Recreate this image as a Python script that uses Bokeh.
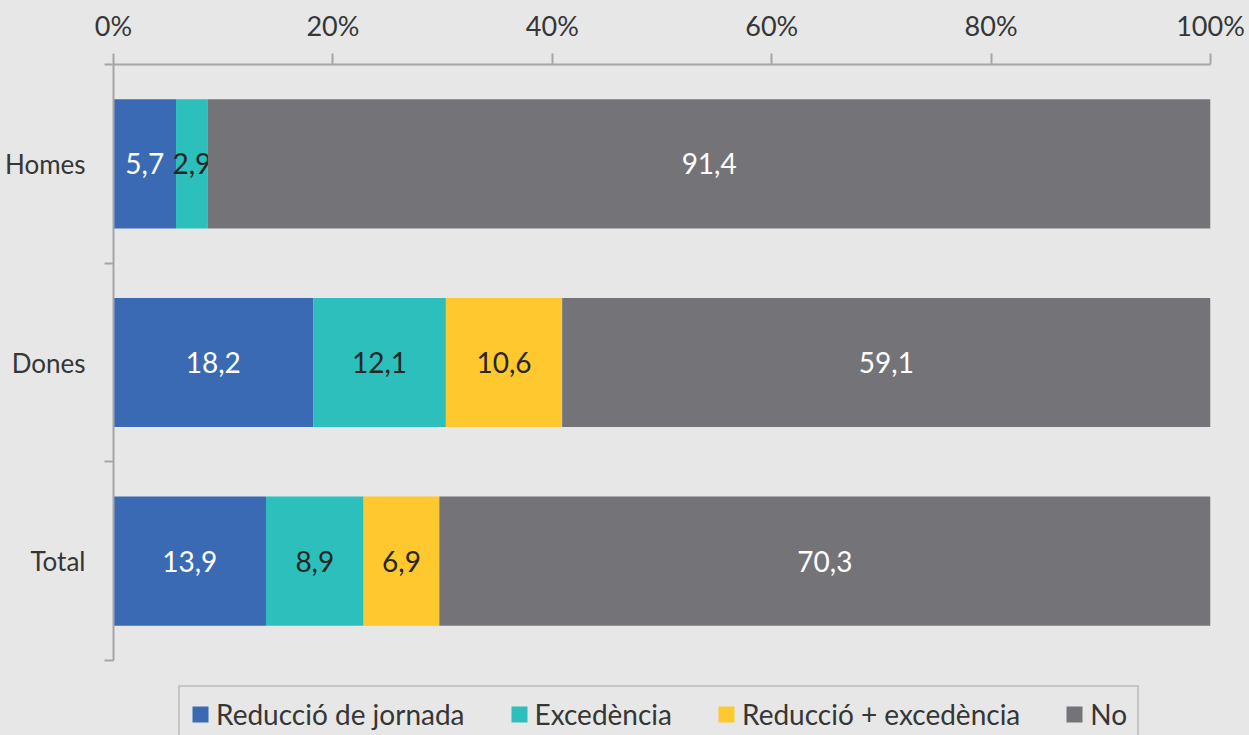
import numpy as np
from bokeh.plotting import figure
from bokeh.models import (FixedTicker, PrintfTickFormatter, Legend, LegendItem,
                          ColumnDataSource)
from bokeh.core.properties import value
from bokeh.embed import file_html
from bokeh.resources import INLINE

# ---- data ----
categories = ["Homes", "Dones", "Total"]
series_names = ["Reducció de jornada", "Excedència", "Reducció + excedència", "No"]
reduccio = [5.7, 18.2, 13.9]
excedencia = [2.9, 12.1, 8.9]
reduccio_exc = [0.0, 10.6, 6.9]
no = [91.4, 59.1, 70.3]
x_ticks = [0, 20, 40, 60, 80, 100]

# ---- style ----
BG = "#e7e7e7"
AXIS = "#a6a6a8"
TXT = "#363636"
FONT = "Lato"
colors = ["#3a6ab3", "#2cbfbb", "#ffc82f", "#747378"]
label_colors = ["#ffffff", "#262626", "#262626", "#ffffff"]

W, H = 1249, 735
TOP, LEFT, RIGHT = 64, 113, 39
BAR_AREA = 596          # pixel height used by the category bands
LEGEND_AREA = H - TOP - BAR_AREA

n = len(categories)
ypos = [n - 0.5 - i for i in range(n)]  # first category on top
pad_units = LEGEND_AREA / (BAR_AREA / n)

p = figure(width=W, height=H, x_range=(0, 100), y_range=(-pad_units, n),
           x_axis_location="above", output_backend="svg", toolbar_location=None,
           min_border_left=LEFT, min_border_right=RIGHT, min_border_top=TOP,
           min_border_bottom=0)
p.background_fill_color = BG
p.border_fill_color = BG
p.outline_line_color = None
p.grid.visible = False

series = [reduccio, excedencia, reduccio_exc, no]
left = np.zeros(n)
renderers = []
for vals, col, lcol in zip(series, colors, label_colors):
    vals = np.array(vals)
    right = left + vals
    src = ColumnDataSource(dict(y=ypos, left=left, right=right))
    r = p.hbar(y="y", left="left", right="right", height=0.65, source=src,
               fill_color=col, line_color=None)
    renderers.append(r)
    mask = vals > 0
    lsrc = ColumnDataSource(dict(
        x=list((left + vals / 2)[mask]),
        y=list(np.array(ypos)[mask]),
        t=[f"{v:.1f}".replace(".", ",") for v in vals[mask]]))
    p.text(x="x", y="y", text="t", source=lsrc, text_align="center",
           text_baseline="middle", text_color=lcol, text_font=value(FONT),
           text_font_size="28px")
    left = right

# top axis
xa = p.xaxis[0]
xa.ticker = FixedTicker(ticks=x_ticks, minor_ticks=[])
xa.formatter = PrintfTickFormatter(format="%d%%")
xa.axis_line_color = AXIS
xa.axis_line_width = 2
xa.major_tick_line_color = AXIS
xa.major_tick_line_width = 2
xa.major_tick_out = 11
xa.major_tick_in = 0
xa.minor_tick_line_color = None
xa.major_label_text_font = FONT
xa.major_label_text_font_size = "27px"
xa.major_label_text_color = TXT
xa.major_label_standoff = 12

# left axis
ya = p.yaxis[0]
ya.bounds = (0, n)
ya.ticker = FixedTicker(ticks=ypos, minor_ticks=list(range(n + 1)))
ya.major_label_overrides = {y: c for y, c in zip(ypos, categories)}
ya.axis_line_color = AXIS
ya.axis_line_width = 2
ya.major_tick_line_color = None
ya.major_tick_out = 0
ya.major_tick_in = 0
ya.minor_tick_line_color = AXIS
ya.minor_tick_line_width = 2
ya.minor_tick_out = 9
ya.minor_tick_in = 0
ya.major_label_text_font = FONT
ya.major_label_text_font_size = "26px"
ya.major_label_text_color = TXT
ya.major_label_standoff = 19

legend = Legend(
    items=[LegendItem(label=nm, renderers=[r]) for nm, r in zip(series_names, renderers)],
    orientation="horizontal", location=(65, -8), margin=0,
    label_text_font=FONT, label_text_font_size="28px", label_text_color=TXT,
    glyph_width=20, glyph_height=20, label_standoff=6,
    spacing=44, padding=10,
    border_line_color=AXIS, border_line_width=2,
    background_fill_color=BG, background_fill_alpha=1.0)
p.add_layout(legend, "center")

html = file_html(p, INLINE).replace("<body>", '<body style="background-color:#e7e7e7;">')
open("out.html", "w").write(html)
